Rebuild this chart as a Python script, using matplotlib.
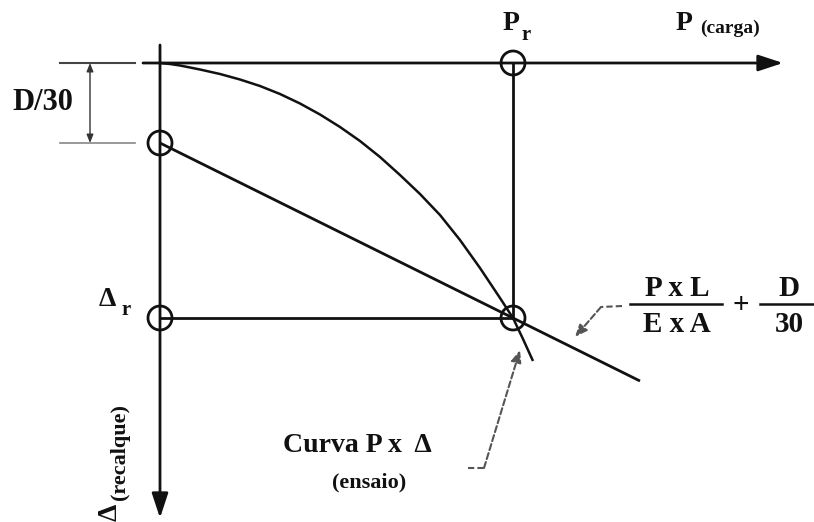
import matplotlib.pyplot as plt
from matplotlib.patches import Circle

plt.rcParams['font.family'] = ['Liberation Serif', 'DejaVu Serif']
plt.rcParams['font.weight'] = 'bold'

# key points of the diagram (px, y grows downward)
origin = (160, 63)
p_r = 513          # load at failure
d30 = 143          # settlement offset D/30
delta_r = 318      # settlement at failure
p_end = 783        # end of load axis
d_end = 518        # end of settlement axis

# load-settlement test curve
curve_x = [160, 170, 180, 190, 200, 220, 240, 260, 280, 300, 320, 340, 360, 380,
           400, 420, 440, 460, 480, 500, 513, 523, 533]
curve_y = [63, 64, 65.5, 67.5, 69.5, 74, 79.5, 86, 94, 103.5, 114.5, 127, 141, 157,
           175, 194, 215, 240, 268, 298, 318, 339, 361]

# elastic line P.L/(E.A) + D/30
line_x = [160, 513, 640]
line_y = [143, 318, 381]

# circled points
marks_x = [160, 160, 513, 513]
marks_y = [143, 318, 318, 63]

fig = plt.figure(figsize=(8.14, 5.22), dpi=100)
ax = fig.add_axes([0, 0, 1, 1])
ax.set_xlim(0, 814)
ax.set_ylim(522, 0)
ax.axis('off')

k = '#111111'
g = '#555555'
lw = 2.0

# axes with arrows
head = dict(arrowstyle='-|>,head_length=1.0,head_width=0.33', lw=lw, color=k,
            mutation_scale=15, shrinkA=0, shrinkB=0)
ax.annotate('', xy=(p_end, origin[1]), xytext=(143, origin[1]), arrowprops=head)
ax.annotate('', xy=(origin[0], d_end), xytext=(origin[0], 45), arrowprops=head)

# construction lines
ax.plot([p_r, p_r], [origin[1], delta_r], color=k, lw=lw)
ax.plot([origin[0], p_r], [delta_r, delta_r], color=k, lw=lw)
ax.plot(line_x, line_y, color=k, lw=lw, solid_capstyle='butt')
ax.plot(curve_x, curve_y, color=k, lw=1.8, solid_capstyle='butt', solid_joinstyle='round')

for cx, cy in zip(marks_x, marks_y):
    ax.add_patch(Circle((cx, cy), 12, fill=False, ec=k, lw=lw))

# D/30 dimension
ax.plot([60, 135], [origin[1], origin[1]], color='#444444', lw=1.5)
ax.plot([60, 135], [d30, d30], color='#888888', lw=1.2)
ax.annotate('', xy=(90, d30), xytext=(90, origin[1]),
            arrowprops=dict(arrowstyle='<|-|>,head_length=0.5,head_width=0.2',
                            lw=1.0, color='#333333', mutation_scale=10, shrinkA=0, shrinkB=0))
ax.text(43, 103, 'D/30', fontsize=22, ha='center', va='center', color=k)

# axis labels
ax.text(503, 24, 'P', fontsize=20, ha='left', va='center', color=k)
ax.text(522, 35, 'r', fontsize=15, ha='left', va='center', color=k)
ax.text(676, 24, 'P', fontsize=20, ha='left', va='center', color=k)
ax.text(700, 28, '(carga)', fontsize=14, ha='left', va='center', color=k)
ax.text(99, 300, 'Δ', fontsize=20, ha='left', va='center', color=k)
ax.text(122, 310, 'r', fontsize=15, ha='left', va='center', color=k)
ax.text(110, 521, 'Δ', fontsize=20, ha='center', va='bottom', rotation=90, color=k)
ax.text(120, 500, '(recalque)', fontsize=16, ha='center', va='bottom', rotation=90, color=k)

# formula P x L / (E x A) + D / 30
ax.text(677, 288, 'P x L', fontsize=21, ha='center', va='center', color=k)
ax.plot([630, 722], [304, 304], color=k, lw=1.8)
ax.text(677, 325, 'E x A', fontsize=21, ha='center', va='center', color=k)
ax.text(741, 306, '+', fontsize=21, ha='center', va='center', color=k)
ax.text(789, 288, 'D', fontsize=21, ha='center', va='center', color=k)
ax.plot([760, 814], [304, 304], color=k, lw=1.8)
ax.text(789, 325, '30', fontsize=21, ha='center', va='center', color=k)

lead = dict(arrowstyle='-|>,head_length=0.6,head_width=0.25', lw=1.5, color=g,
            ls=(0, (3, 1.5)), mutation_scale=12, shrinkA=0, shrinkB=0)
ax.plot([622, 601], [306, 307], color=g, lw=1.5, ls=(0, (3, 1.5)))
ax.annotate('', xy=(575, 337), xytext=(601, 307), arrowprops=lead)

# test curve label
ax.text(357, 445, 'Curva P x  Δ', fontsize=20, ha='center', va='center', color=k)
ax.text(369, 482, '(ensaio)', fontsize=16, ha='center', va='center', color=k)
ax.plot([468, 484], [468, 468], color=g, lw=1.5, ls=(0, (3, 1.5)))
ax.annotate('', xy=(520, 350), xytext=(484, 468), arrowprops=lead)

fig.savefig('out.png', dpi=100)
